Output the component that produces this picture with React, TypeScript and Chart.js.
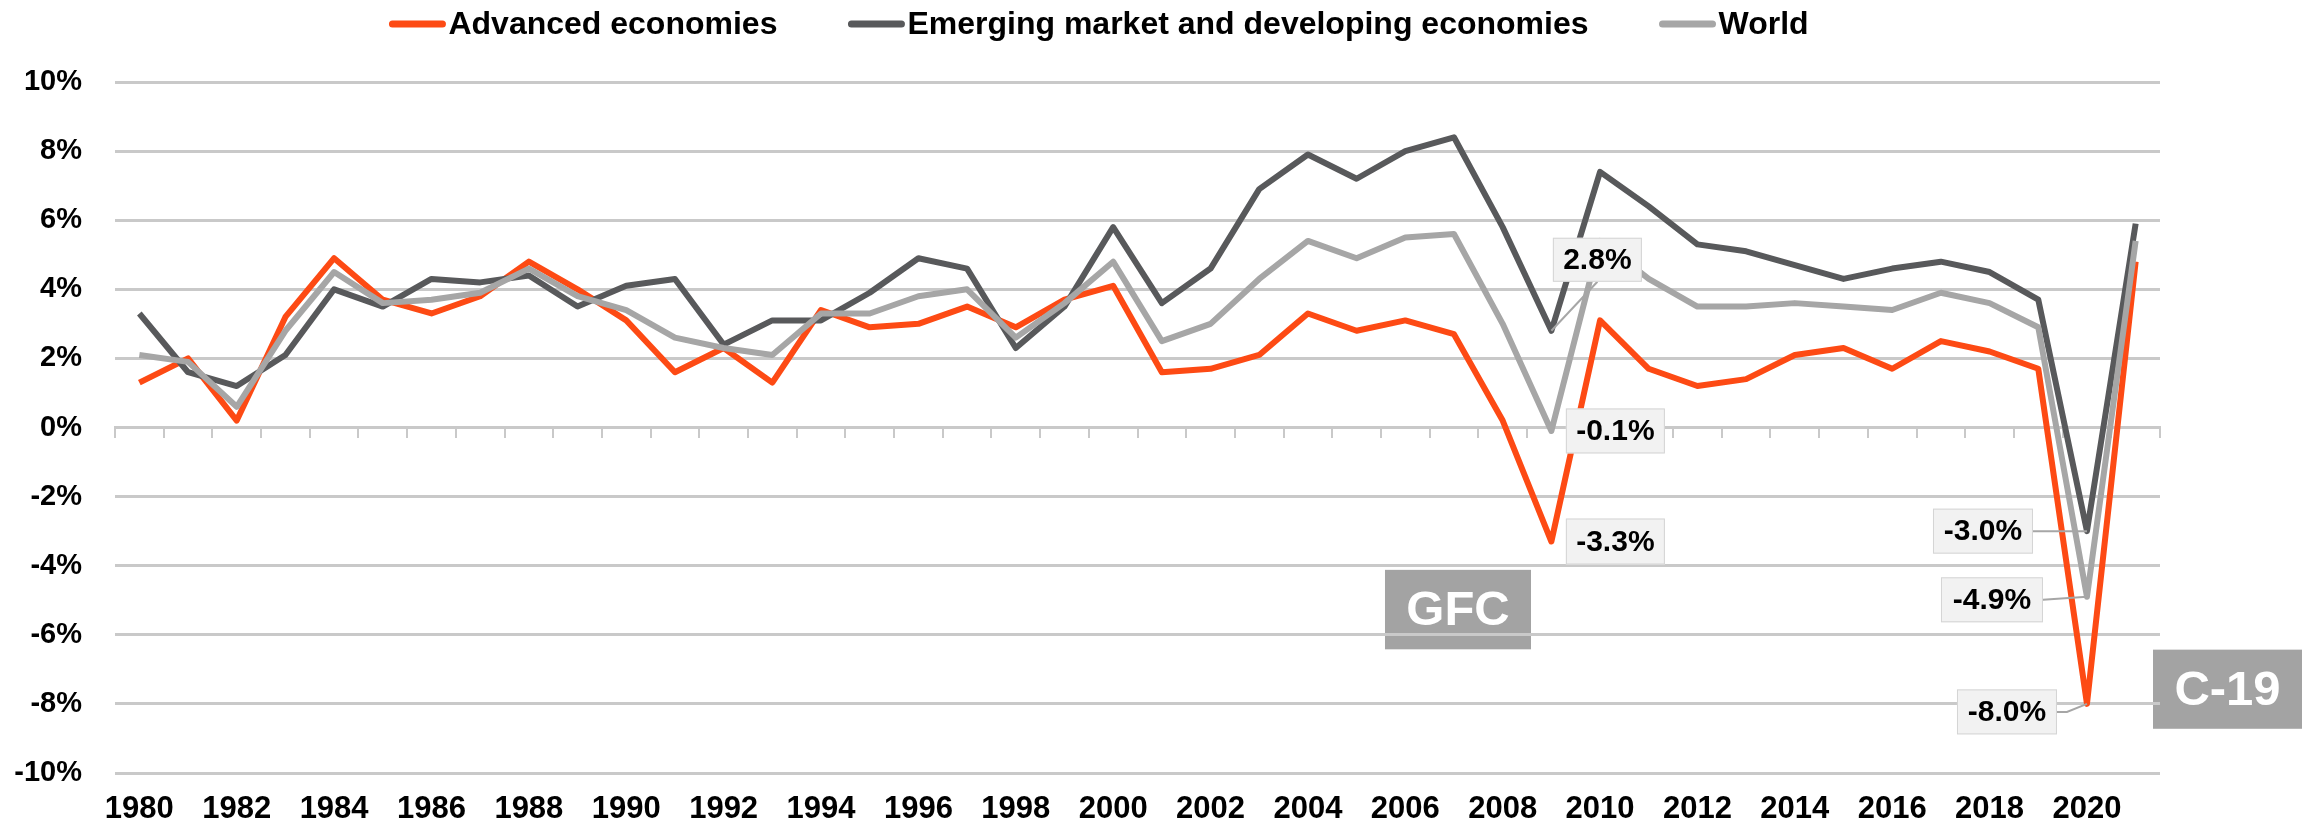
import React, { useEffect, useRef } from "react";
import { Chart, registerables } from "chart.js";

Chart.register(...registerables);

const years = [
  "1980", "1981", "1982", "1983", "1984", "1985", "1986", "1987", "1988", "1989",
  "1990", "1991", "1992", "1993", "1994", "1995", "1996", "1997", "1998", "1999",
  "2000", "2001", "2002", "2003", "2004", "2005", "2006", "2007", "2008", "2009",
  "2010", "2011", "2012", "2013", "2014", "2015", "2016", "2017", "2018", "2019",
  "2020", "2021",
];

const advancedEconomies = [
  1.3, 2.0, 0.2, 3.2, 4.9, 3.7, 3.3, 3.8, 4.8, 4.0,
  3.1, 1.6, 2.3, 1.3, 3.4, 2.9, 3.0, 3.5, 2.9, 3.7,
  4.1, 1.6, 1.7, 2.1, 3.3, 2.8, 3.1, 2.7, 0.2, -3.3,
  3.1, 1.7, 1.2, 1.4, 2.1, 2.3, 1.7, 2.5, 2.2, 1.7,
  -8.0, 4.8,
];

const emergingEconomies = [
  3.3, 1.6, 1.2, 2.1, 4.0, 3.5, 4.3, 4.2, 4.4, 3.5,
  4.1, 4.3, 2.4, 3.1, 3.1, 3.9, 4.9, 4.6, 2.3, 3.5,
  5.8, 3.6, 4.6, 6.9, 7.9, 7.2, 8.0, 8.4, 5.8, 2.8,
  7.4, 6.4, 5.3, 5.1, 4.7, 4.3, 4.6, 4.8, 4.5, 3.7,
  -3.0, 5.9,
];

const worldEconomy = [
  2.1, 1.9, 0.6, 2.8, 4.5, 3.6, 3.7, 3.9, 4.6, 3.8,
  3.4, 2.6, 2.3, 2.1, 3.3, 3.3, 3.8, 4.0, 2.6, 3.6,
  4.8, 2.5, 3.0, 4.3, 5.4, 4.9, 5.5, 5.6, 3.0, -0.1,
  5.4, 4.3, 3.5, 3.5, 3.6, 3.5, 3.4, 3.9, 3.6, 2.9,
  -4.9, 5.4,
];

const seriesNames = [
  "Advanced economies",
  "Emerging market and developing economies",
  "World",
];
const seriesColors = ["#FD4A14", "#58595B", "#A6A6A6"];

const yMin = -10;
const yMax = 10;
const yStep = 2;

const eventLabels = ["GFC", "C-19"];

const FONT = "'Liberation Sans', Arial, Helvetica, sans-serif";
const GRID = "#c9c9c9";

type Note = {
  series: number;
  year: string;
  dx: number;
  dy: number;
  w: number;
  h: number;
  leader?: [number, number][];
};

const notes: Note[] = [
  { series: 1, year: "2009", dx: 46, dy: -71, w: 89, h: 44, leader: [[0, 22]] },
  { series: 2, year: "2009", dx: 64, dy: 0, w: 99, h: 45 },
  { series: 0, year: "2009", dx: 64, dy: 0, w: 99, h: 46 },
  { series: 1, year: "2020", dx: -104, dy: 0, w: 100, h: 45, leader: [[50, 0]] },
  { series: 2, year: "2020", dx: -95, dy: 3, w: 102, h: 45, leader: [[51, 0]] },
  { series: 0, year: "2020", dx: -80, dy: 8, w: 100, h: 45, leader: [[50, 0], [60, 0]] },
];

const notesPlugin = {
  id: "notes",
  afterDatasetsDraw(chart: any) {
    const ctx = chart.ctx;
    const xs = chart.scales.x;
    const ys = chart.scales.y;
    ctx.save();
    notes.forEach((n) => {
      const idx = years.indexOf(n.year);
      const val = chart.data.datasets[n.series].data[idx] as number;
      const px = xs.getPixelForValue(idx);
      const py = ys.getPixelForValue(val);
      const cx = px + n.dx;
      const cy = py + n.dy;
      if (n.leader) {
        ctx.strokeStyle = "#a6a6a6";
        ctx.lineWidth = 2;
        ctx.beginPath();
        ctx.moveTo(px, py);
        for (let i = n.leader.length - 1; i >= 0; i--) {
          ctx.lineTo(cx + n.leader[i][0], cy + n.leader[i][1]);
        }
        ctx.stroke();
      }
      ctx.fillStyle = "#f2f2f2";
      ctx.fillRect(cx - n.w / 2, cy - n.h / 2, n.w, n.h);
      ctx.strokeStyle = "#d4d4d4";
      ctx.lineWidth = 1;
      ctx.strokeRect(cx - n.w / 2 + 0.5, cy - n.h / 2 + 0.5, n.w - 1, n.h - 1);
      ctx.fillStyle = "#000000";
      ctx.font = `bold 30px ${FONT}`;
      ctx.textAlign = "center";
      ctx.textBaseline = "middle";
      ctx.fillText(val.toFixed(1) + "%", cx, cy + 1);
    });
    ctx.restore();
  },
};

const eventsPlugin = {
  id: "events",
  beforeDraw(chart: any) {
    const ctx = chart.ctx;
    const xs = chart.scales.x;
    const ys = chart.scales.y;
    ctx.save();
    ctx.font = `bold 49px ${FONT}`;
    ctx.textAlign = "center";
    ctx.textBaseline = "middle";
    const gx = xs.getPixelForValue(years.indexOf("2007")) + 4;
    const gTop = ys.getPixelForValue(-4.12);
    const gBot = ys.getPixelForValue(-6.42);
    ctx.fillStyle = "#a3a3a3";
    ctx.fillRect(gx - 73, gTop, 146, gBot - gTop);
    ctx.fillStyle = "#ffffff";
    ctx.fillText(eventLabels[0], gx, (gTop + gBot) / 2 + 2);
    const cLeft = chart.chartArea.right - 7;
    const cRight = chart.width;
    const cTop = ys.getPixelForValue(-6.43);
    const cBot = ys.getPixelForValue(-8.72);
    ctx.fillStyle = "#a3a3a3";
    ctx.fillRect(cLeft, cTop, cRight - cLeft, cBot - cTop);
    ctx.fillStyle = "#ffffff";
    ctx.fillText(eventLabels[1], (cLeft + cRight) / 2, (cTop + cBot) / 2 + 2);
    ctx.restore();
  },
};

const legendPlugin = {
  id: "lineLegend",
  afterDraw(chart: any) {
    const ctx = chart.ctx;
    ctx.save();
    ctx.font = `bold 32px ${FONT}`;
    const sw = 56;
    const gapText = 3;
    const gapItem = 71;
    const items = chart.data.datasets.map((ds: any) => ({
      label: ds.label as string,
      color: ds.borderColor as string,
      w: ctx.measureText(ds.label).width,
    }));
    const total =
      items.reduce((s: number, it: any) => s + sw + gapText + it.w, 0) +
      gapItem * (items.length - 1);
    let x = 1099 - total / 2;
    const y = 24;
    items.forEach((it: any) => {
      ctx.strokeStyle = it.color;
      ctx.lineWidth = 7;
      ctx.lineCap = "round";
      ctx.beginPath();
      ctx.moveTo(x + 3, y);
      ctx.lineTo(x + sw - 3, y);
      ctx.stroke();
      ctx.fillStyle = "#000000";
      ctx.textAlign = "left";
      ctx.textBaseline = "middle";
      ctx.fillText(it.label, x + sw + gapText, y + 1);
      x += sw + gapText + it.w + gapItem;
    });
    ctx.restore();
  },
};

export default function App() {
  const canvasRef = useRef<HTMLCanvasElement | null>(null);

  useEffect(() => {
    if (!canvasRef.current) return;
    Chart.defaults.font.family = FONT;
    const mk = (i: number, data: number[], order: number) => ({
      label: seriesNames[i],
      data,
      borderColor: seriesColors[i],
      backgroundColor: seriesColors[i],
      borderWidth: 6,
      pointRadius: 0,
      pointHoverRadius: 0,
      tension: 0,
      borderJoinStyle: "round" as const,
      borderCapStyle: "butt" as const,
      fill: false,
      order,
    });
    const chart = new Chart(canvasRef.current, {
      type: "line",
      data: {
        labels: years,
        datasets: [
          mk(0, advancedEconomies, 2),
          mk(1, emergingEconomies, 1),
          mk(2, worldEconomy, 0),
        ],
      },
      options: {
        responsive: false,
        animation: false,
        devicePixelRatio: 1,
        layout: { padding: { left: 0, right: 142, top: 82, bottom: 0 } },
        plugins: {
          legend: { display: false },
          tooltip: { enabled: false },
          title: { display: false },
        },
        scales: {
          x: {
            type: "category",
            position: { y: 0 } as any,
            offset: true,
            grid: {
              display: true,
              offset: true,
              drawOnChartArea: false,
              drawTicks: true,
              tickLength: 9,
              color: GRID,
              lineWidth: 2,
            },
            border: { display: true, color: GRID, width: 3 },
            ticks: { display: false, autoSkip: false },
          },
          xb: {
            type: "category",
            position: "bottom",
            offset: true,
            grid: { display: false, drawTicks: false },
            border: { display: false },
            ticks: {
              autoSkip: false,
              maxRotation: 0,
              minRotation: 0,
              padding: 18,
              color: "#000000",
              font: { size: 31, weight: "bold", family: FONT },
              callback: function (this: any, val: any, idx: number) {
                return idx % 2 === 0 ? this.getLabelForValue(val) : "";
              },
            },
            afterFit: (scale: any) => {
              scale.height = 52;
            },
          },
          y: {
            type: "linear",
            min: yMin,
            max: yMax,
            grid: { color: GRID, lineWidth: 3, drawTicks: false },
            border: { display: false },
            ticks: {
              stepSize: yStep,
              padding: 33,
              color: "#000000",
              font: { size: 29, weight: "bold", family: FONT },
              callback: (v: any) => `${v}%`,
            },
            afterFit: (scale: any) => {
              scale.width = 115;
            },
          },
        },
      },
      plugins: [eventsPlugin, notesPlugin, legendPlugin],
    });
    return () => chart.destroy();
  }, []);

  return (
    <div style={{ position: "fixed", left: 0, top: 0, width: 2302, height: 825, background: "#ffffff" }}>
      <canvas ref={canvasRef} width={2302} height={825} style={{ display: "block" }} />
    </div>
  );
}
